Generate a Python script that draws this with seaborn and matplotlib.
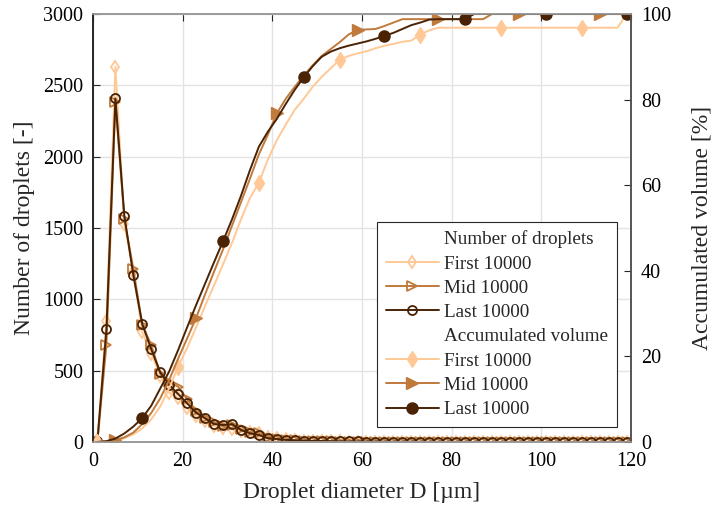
import matplotlib
matplotlib.use("Agg")
import matplotlib.pyplot as plt
from matplotlib.lines import Line2D
import seaborn as sns

# droplet diameter classes (bin centres, um)
diameter = list(range(1, 120, 2))

# number of droplets per class
count_first = [12, 848, 2630, 1530, 1190, 770, 620, 465, 345, 310, 235, 185, 145, 115, 95,
               90, 75, 70, 60, 35, 25, 18, 14, 10, 8, 6, 5, 4, 3, 3,
               2, 2, 2, 1, 1, 1, 1, 1, 0, 0, 0, 0, 0, 0, 0,
               0, 0, 0, 0, 0, 0, 0, 0, 0, 0, 0, 0, 0, 0, 0]
count_mid = [8, 680, 2380, 1560, 1215, 820, 680, 480, 420, 388, 300, 220, 170, 140, 110,
             120, 90, 70, 65, 30, 22, 16, 12, 9, 7, 5, 4, 3, 2, 2,
             2, 2, 1, 1, 1, 1, 1, 0, 0, 0, 0, 0, 0, 0, 0,
             0, 0, 0, 0, 0, 0, 0, 0, 0, 0, 0, 0, 0, 0, 0]
count_last = [10, 792, 2408, 1586, 1168, 827, 650, 488, 400, 336, 271, 205, 166, 126, 119,
              126, 84, 61, 49, 26, 21, 15, 12, 10, 8, 7, 6, 5, 4, 4,
              3, 3, 2, 2, 2, 2, 1, 1, 1, 1, 1, 1, 0, 0, 0,
              0, 0, 0, 0, 0, 0, 0, 0, 0, 0, 0, 0, 0, 0, 0]

# accumulated volume [%]
vol_first = [0, 0.1, 0.3, 0.9, 1.8, 3.2, 5.3, 8.3, 12.6, 17.6, 22.0, 26.8, 31.8, 36.6, 41.5,
             46.5, 52.0, 57.0, 60.6, 66.0, 70.5, 74.2, 77.6, 80.2, 83.0, 85.3, 87.3, 89.3, 90.2, 90.8,
             91.3, 92.0, 92.6, 93.0, 93.5, 93.8, 95.2, 96.2, 96.8, 96.8, 96.8, 96.8, 96.8, 96.8, 96.8,
             96.8, 96.8, 96.8, 96.8, 96.8, 96.8, 96.8, 96.8, 96.8, 96.8, 96.8, 96.8, 96.8, 96.8, 100]
vol_mid = [0, 0.1, 0.4, 1.1, 2.2, 4.2, 6.8, 10.2, 14.5, 19.5, 24.2, 29.0, 34.5, 39.8, 45.0,
           50.5, 56.0, 61.5, 67.2, 71.8, 76.8, 80.2, 83.0, 85.6, 88.0, 90.2, 91.8, 93.4, 95.2, 96.3,
           96.4, 96.5, 97.2, 98.0, 98.8, 98.8, 98.8, 98.8, 98.8, 98.8, 98.8, 98.8, 98.8, 98.8, 100,
           100, 100, 100, 100, 100, 100, 100, 100, 100, 100, 100, 100, 100, 100, 100]
vol_last = [0, 0.2, 0.8, 2.0, 3.6, 5.6, 8.5, 12.5, 16.5, 21.5, 26.8, 32.0, 37.0, 42.0, 46.9,
            52.0, 57.5, 63.5, 69.0, 72.5, 75.5, 79.0, 82.3, 85.2, 87.8, 90.0, 91.2, 92.0, 92.6, 93.1,
            93.6, 94.2, 94.9, 95.6, 96.5, 97.4, 98.0, 98.7, 98.8, 98.8, 98.8, 98.8, 100, 100, 100,
            100, 100, 100, 100, 100, 100, 100, 100, 100, 100, 100, 100, 100, 100, 100]

labels = ["First 10000", "Mid 10000", "Last 10000"]
colors = ["#FFC896", "#C07A3C", "#4A2305"]

sns.set_theme(style="white")
plt.rcParams["font.family"] = ["Liberation Serif", "DejaVu Serif"]

fig = plt.figure(figsize=(7.23, 5.08), dpi=100)
ax = fig.add_axes([0.1286, 0.1299, 0.7442, 0.8425])
ax2 = ax.twinx()

markers = ["d", ">", "o"]
vol_offsets = [0, 2, 5]

handles_n = []
for counts, c, m in zip([count_first, count_mid, count_last], colors, markers):
    sns.lineplot(x=diameter, y=counts, ax=ax, color=c, lw=1.4, marker=m, markersize=6.5,
                 markerfacecolor="none", markeredgecolor=c, markeredgewidth=1.3)
    handles_n.append(Line2D([], [], color=c, lw=1.4, marker=m, markersize=6.5,
                            markerfacecolor="none", markeredgecolor=c, markeredgewidth=1.3))

handles_v = []
for vols, c, m, off in zip([vol_first, vol_mid, vol_last], colors, markers, vol_offsets):
    sns.lineplot(x=diameter, y=vols, ax=ax2, color=c, lw=1.4, marker=m, markersize=8,
                 markevery=(off, 9), markerfacecolor=c, markeredgecolor=c, markeredgewidth=1)
    handles_v.append(Line2D([], [], color=c, lw=1.4, marker=m, markersize=8,
                            markerfacecolor=c, markeredgecolor=c))

ax.set_xlim(0, 120)
ax.set_ylim(0, 3000)
ax2.set_ylim(0, 100)
ax.set_xticks(range(0, 121, 20))
ax.set_yticks(range(0, 3001, 500))
ax2.set_yticks(range(0, 101, 20))

ax.grid(True, color="#e3e3e3", lw=1)
ax2.grid(False)
ax.set_axisbelow(True)

ax.tick_params(axis="both", direction="in", labelsize=14.5, length=5, width=0.8, pad=7,
               top=True, colors="#262626", labelcolor="black")
ax2.tick_params(axis="y", direction="in", labelsize=14.5, length=5, width=0.8, pad=7,
                colors="#262626", labelcolor="black")

ax.set_xlabel("Droplet diameter D [µm]", fontsize=17, labelpad=8)
ax.set_ylabel("Number of droplets [-]", fontsize=17, labelpad=6)
ax2.set_ylabel("Accumulated volume [%]", fontsize=17, labelpad=15)

for a in (ax, ax2):
    a.spines["left"].set_color("#262626")
    a.spines["right"].set_color("#555555")
    a.spines["top"].set_color("#9a9a9a")
    a.spines["bottom"].set_color("#9a9a9a")
    for s in a.spines.values():
        s.set_linewidth(1.2)

blank = Line2D([], [], color="none")
leg = ax2.legend([blank] + handles_n + [blank] + handles_v,
                 ["Number of droplets"] + labels + ["Accumulated volume"] + labels,
                 loc="lower right", bbox_to_anchor=(0.974, 0.035), borderaxespad=0,
                 fontsize=13.8, handlelength=2.75, handletextpad=0.3, borderpad=0.45,
                 labelspacing=0.36, fancybox=False, framealpha=1, edgecolor="#262626")
leg.get_frame().set_linewidth(0.8)

fig.savefig("out.png", dpi=100)
